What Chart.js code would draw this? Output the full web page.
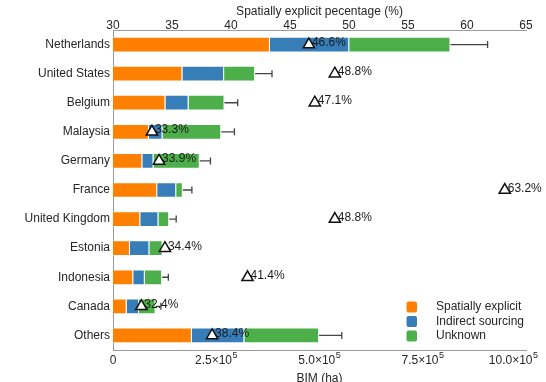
<!DOCTYPE html>
<html>
<head>
<meta charset="utf-8">
<script src="https://cdn.jsdelivr.net/npm/chart.js@4"></script>
<style>
  html, body { margin: 0; padding: 0; background: #ffffff; }
  #wrap { width: 546px; height: 382px; }
</style>
</head>
<body>
<div id="wrap"><canvas id="bim" width="546" height="382"></canvas></div>
<script>
// Countries, top to bottom
const countries = ['Netherlands', 'United States', 'Belgium', 'Malaysia', 'Germany', 'France',
                   'United Kingdom', 'Estonia', 'Indonesia', 'Canada', 'Others'];

// BIM area by sourcing type (ha)
const spatiallyExplicit = [380000, 168000, 127000, 87000, 71000, 107000, 66000, 41000, 49000, 33000, 191000];
const indirectSourcing  = [192000, 101000, 56000, 33000, 27000, 46000, 44000, 47000, 28000, 30000, 127000];
const unknownSourcing   = [245000, 75000, 87000, 142000, 112000, 16000, 26000, 32000, 42000, 40000, 181000];

// Upper uncertainty on the total BIM area (ha)
const bimError = [90000, 41000, 32000, 32000, 26000, 22000, 17000, 8000, 15000, 13000, 55000];

// Share of BIM that is spatially explicit (%)
const explicitShare = [46.6, 48.8, 47.1, 33.3, 33.9, 63.2, 48.8, 34.4, 41.4, 32.4, 38.4];

// Axis ticks (BIM labels are written as mantissa×10 with a raised exponent)
const bimTicks = [0, 250000, 500000, 750000, 1000000];
const bimTickBase = ['0', '2.5×10', '5.0×10', '7.5×10', '10.0×10'];
const bimTickExp  = ['', '5', '5', '5', '5'];
const shareTicks = [30, 35, 40, 45, 50, 55, 60, 65];

const seriesNames = ['Spatially explicit', 'Indirect sourcing', 'Unknown'];
const seriesColors = ['#FF7F00', '#377EB8', '#4DAF4A'];

const FONT = '"Liberation Sans", Arial, Helvetica, sans-serif';
const TEXT = '#262626';
const AXIS = '#9a9a9a';

Chart.defaults.font.family = FONT;
Chart.defaults.font.size = 12;
Chart.defaults.color = TEXT;

// Error bars: drawn once the bar segments are painted, below the triangle markers
const errorBars = {
  id: 'errorBars',
  afterDatasetDraw(chart, args) {
    if (args.index !== 0) return;
    const { ctx, scales: { x, y } } = chart;
    ctx.save();
    ctx.strokeStyle = '#454545';
    ctx.lineWidth = 1.3;
    countries.forEach((name, i) => {
      const total = spatiallyExplicit[i] + indirectSourcing[i] + unknownSourcing[i];
      const x0 = x.getPixelForValue(total);
      const x1 = x.getPixelForValue(total + bimError[i]);
      const yc = y.getPixelForValue(i);
      ctx.beginPath();
      ctx.moveTo(x0, yc);
      ctx.lineTo(x1, yc);
      ctx.moveTo(x1, yc - 3.5);
      ctx.lineTo(x1, yc + 3.5);
      ctx.stroke();
    });
    ctx.restore();
  }
};

// Percentage text next to each triangle marker
const shareLabels = {
  id: 'shareLabels',
  afterDatasetsDraw(chart) {
    const meta = chart.getDatasetMeta(3);
    const { ctx } = chart;
    ctx.save();
    ctx.font = '12px ' + FONT;
    ctx.fillStyle = '#1a1a1a';
    ctx.textAlign = 'left';
    ctx.textBaseline = 'alphabetic';
    meta.data.forEach((pt, i) => {
      ctx.fillText(explicitShare[i].toFixed(1) + '%', pt.x + 3, pt.y + 1.5);
    });
    ctx.restore();
  }
};

// BIM tick labels with superscript exponents, placed at the x scale's tick pixels
const bimTickText = {
  id: 'bimTickText',
  afterDraw(chart) {
    const { ctx, scales: { x } } = chart;
    const baseFont = '12px ' + FONT, expFont = '9px ' + FONT;
    const baseline = x.top + 14;
    ctx.save();
    ctx.fillStyle = TEXT;
    ctx.textAlign = 'left';
    ctx.textBaseline = 'alphabetic';
    bimTicks.forEach((v, i) => {
      ctx.font = baseFont;
      const wb = ctx.measureText(bimTickBase[i]).width;
      ctx.font = expFont;
      const we = bimTickExp[i] ? ctx.measureText(bimTickExp[i]).width + 0.5 : 0;
      let left = x.getPixelForValue(v) - (wb + we) / 2;
      const limit = chart.width - 8;
      if (left + wb + we > limit) left = limit - wb - we;
      ctx.font = baseFont;
      ctx.fillText(bimTickBase[i], left, baseline);
      if (bimTickExp[i]) {
        ctx.font = expFont;
        ctx.fillText(bimTickExp[i], left + wb + 0.5, baseline - 6);
      }
    });
    ctx.restore();
  }
};

// Legend placed inside the plot, lower right
const insideLegend = {
  id: 'insideLegend',
  afterDraw(chart) {
    const { ctx } = chart;
    const boxX = 406.5, textX = 436, rows = [307, 321.5, 336];
    ctx.save();
    ctx.font = '12px ' + FONT;
    ctx.textBaseline = 'middle';
    ctx.textAlign = 'left';
    chart.data.datasets.slice(0, 3).forEach((ds, i) => {
      ctx.fillStyle = ds.backgroundColor;
      ctx.beginPath();
      ctx.roundRect(boxX, rows[i] - 5.5, 10.5, 11, 2);
      ctx.fill();
      ctx.fillStyle = TEXT;
      ctx.fillText(ds.label, textX, rows[i]);
    });
    ctx.restore();
  }
};

const barDataset = (i, values) => ({
  type: 'bar',
  label: seriesNames[i],
  data: values,
  backgroundColor: seriesColors[i],
  borderColor: 'rgba(255,255,255,0.45)',
  borderWidth: 1,
  xAxisID: 'x',
  yAxisID: 'y',
  order: 1,
  barPercentage: 0.54,
  categoryPercentage: 1.0
});

new Chart(document.getElementById('bim'), {
  data: {
    labels: countries,
    datasets: [
      barDataset(0, spatiallyExplicit),
      barDataset(1, indirectSourcing),
      barDataset(2, unknownSourcing),
      {
        type: 'scatter',
        label: 'Spatially explicit percentage',
        indexAxis: 'y',
        data: countries.map((c, i) => ({ x: explicitShare[i], y: c })),
        xAxisID: 'x2',
        yAxisID: 'y',
        order: 0,
        pointStyle: 'triangle',
        pointRadius: 6.5,
        pointHoverRadius: 6.5,
        backgroundColor: '#ffffff',
        borderColor: '#111111',
        borderWidth: 1.5,
        showLine: false
      }
    ]
  },
  options: {
    indexAxis: 'y',
    responsive: false,
    animation: false,
    devicePixelRatio: 1,
    layout: { padding: { left: 0, right: 20, top: 0, bottom: 0 } },
    plugins: {
      legend: { display: false },
      tooltip: { enabled: false }
    },
    scales: {
      x: {
        type: 'linear',
        position: 'bottom',
        stacked: true,
        min: 0,
        max: 1000000,
        grid: { display: false, drawTicks: false },
        border: { display: true, color: AXIS, width: 1 },
        afterBuildTicks(scale) { scale.ticks = bimTicks.map(v => ({ value: v })); },
        ticks: { display: false },
        title: {
          display: true,
          text: 'BIM (ha)',
          color: TEXT,
          font: { size: 12 },
          padding: { top: 0, bottom: -3.5 }
        },
        afterFit(scale) { scale.height = 32; scale.paddingLeft = 0; scale.paddingRight = 0; }
      },
      x2: {
        type: 'linear',
        position: 'top',
        min: 30,
        max: 65,
        grid: { display: false, drawTicks: false },
        border: { display: true, color: AXIS, width: 1 },
        afterBuildTicks(scale) { scale.ticks = shareTicks.map(v => ({ value: v })); },
        ticks: { padding: -2.5, color: TEXT, font: { size: 12 }, maxRotation: 0 },
        title: {
          display: true,
          text: 'Spatially explicit pecentage (%)',
          color: TEXT,
          font: { size: 12 },
          padding: { top: 4, bottom: 0 }
        },
        afterFit(scale) { scale.height = 30; scale.paddingLeft = 0; scale.paddingRight = 0; }
      },
      y: {
        type: 'category',
        stacked: true,
        offset: true,
        grid: { display: false, drawTicks: false },
        border: { display: true, color: AXIS, width: 1 },
        ticks: { padding: 3, color: TEXT, font: { size: 12 } },
        afterFit(scale) { scale.width = 113; }
      }
    }
  },
  plugins: [errorBars, shareLabels, bimTickText, insideLegend]
});
</script>
</body>
</html>
